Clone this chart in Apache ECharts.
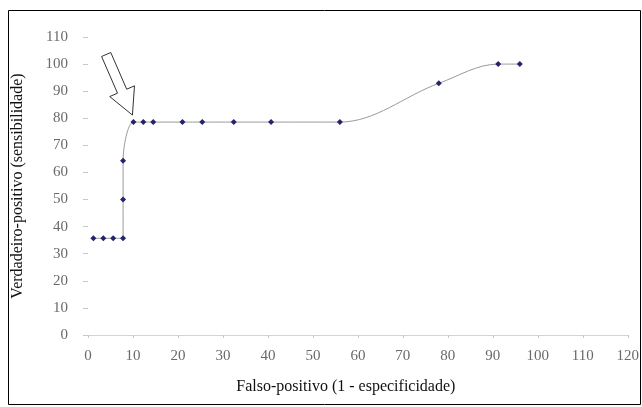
<!DOCTYPE html>
<html>
<head>
<meta charset="utf-8">
<script src="https://cdn.jsdelivr.net/npm/echarts@6/dist/echarts.min.js"></script>
<style>
  html, body { margin: 0; padding: 0; background: #fff; }
  #main { width: 642px; height: 407px; }
</style>
</head>
<body>
<div id="main"></div>
<script>
// falso-positivo (1 - especificidade) e verdadeiro-positivo (sensibilidade)
const falsoPositivo = [1.2, 3.4, 5.6, 7.8, 7.8, 7.8, 10.1, 12.3, 14.5, 21, 25.4, 32.4, 40.7, 56, 78, 91.2, 96]
const verdadeiroPositivo = [35.7, 35.7, 35.7, 35.7, 50, 64.3, 78.6, 78.6, 78.6, 78.6, 78.6, 78.6, 78.6, 78.6, 92.9, 100, 100]
// ponto indicado pela seta
const pontoSeta = [10.1, 78.6]

const points = falsoPositivo.map((x, i) => [x, verdadeiroPositivo[i]])

const main = document.querySelector('#main')
const myChart = echarts.init(main, null, { renderer: 'canvas' })

const serif = '"Liberation Serif", "DejaVu Serif", serif'

myChart.setOption({
    animation: false,
    backgroundColor: '#fff',
    grid: {
        left: 88,
        right: 14,
        top: 37,
        bottom: 72
    },
    xAxis: {
        type: 'value',
        min: 0,
        max: 120,
        interval: 10,
        name: 'Falso-positivo (1 - especificidade)',
        nameLocation: 'middle',
        nameGap: 44,
        nameTextStyle: { fontFamily: serif, fontSize: 16, color: '#111', padding: [0, 24, 0, 0] },
        axisLine: { show: true, lineStyle: { color: '#d4d4d4', width: 1 } },
        axisTick: { show: true, length: 3, lineStyle: { color: '#c8c8c8' } },
        axisLabel: { fontFamily: serif, fontSize: 15, color: '#6a6a6a', margin: 14 },
        splitLine: { show: false }
    },
    yAxis: {
        type: 'value',
        min: 0,
        max: 110,
        interval: 10,
        name: 'Verdadeiro-positivo (sensibilidade)',
        nameLocation: 'middle',
        nameGap: 62,
        nameRotate: 90,
        nameTextStyle: { fontFamily: serif, fontSize: 16, color: '#111' },
        axisLine: { show: false },
        axisTick: { show: true, length: 5, inside: false, lineStyle: { color: '#c8c8c8' } },
        axisLabel: { fontFamily: serif, fontSize: 15, color: '#6a6a6a', margin: 20 },
        splitLine: { show: false }
    },
    series: [{
        type: 'line',
        data: points,
        smooth: 0.35,
        symbol: 'diamond',
        symbolSize: 6,
        showAllSymbol: true,
        lineStyle: { color: '#9a9a9a', width: 1 },
        itemStyle: { color: '#23236e' }
    }]
})

// seta vazada apontando para o ponto de corte
const tip = myChart.convertToPixel({ gridIndex: 0 }, pontoSeta)
const T = [tip[0] - 1, tip[1] - 7]
const dir = [26, 60]
const len = Math.hypot(dir[0], dir[1])
const d = [dir[0] / len, dir[1] / len]
const n = [-d[1], d[0]]
const L = 66, hl = 26, hw = 27, sw = 10
const B = [T[0] - d[0] * hl, T[1] - d[1] * hl]
const A = [T[0] - d[0] * L, T[1] - d[1] * L]
const pt = (p, k) => [p[0] + n[0] * k, p[1] + n[1] * k]
const arrow = [
    pt(A, sw / 2), pt(B, sw / 2), pt(B, hw / 2), T,
    pt(B, -hw / 2), pt(B, -sw / 2), pt(A, -sw / 2)
]

myChart.setOption({
    graphic: [
        {
            type: 'rect',
            shape: { x: 8.5, y: 10.5, width: 632, height: 394 },
            style: { fill: null, stroke: '#000', lineWidth: 1 },
            silent: true
        },
        {
            type: 'polygon',
            shape: { points: arrow },
            style: { fill: '#fff', stroke: '#333', lineWidth: 1 },
            silent: true
        }
    ]
})
</script>
</body>
</html>
